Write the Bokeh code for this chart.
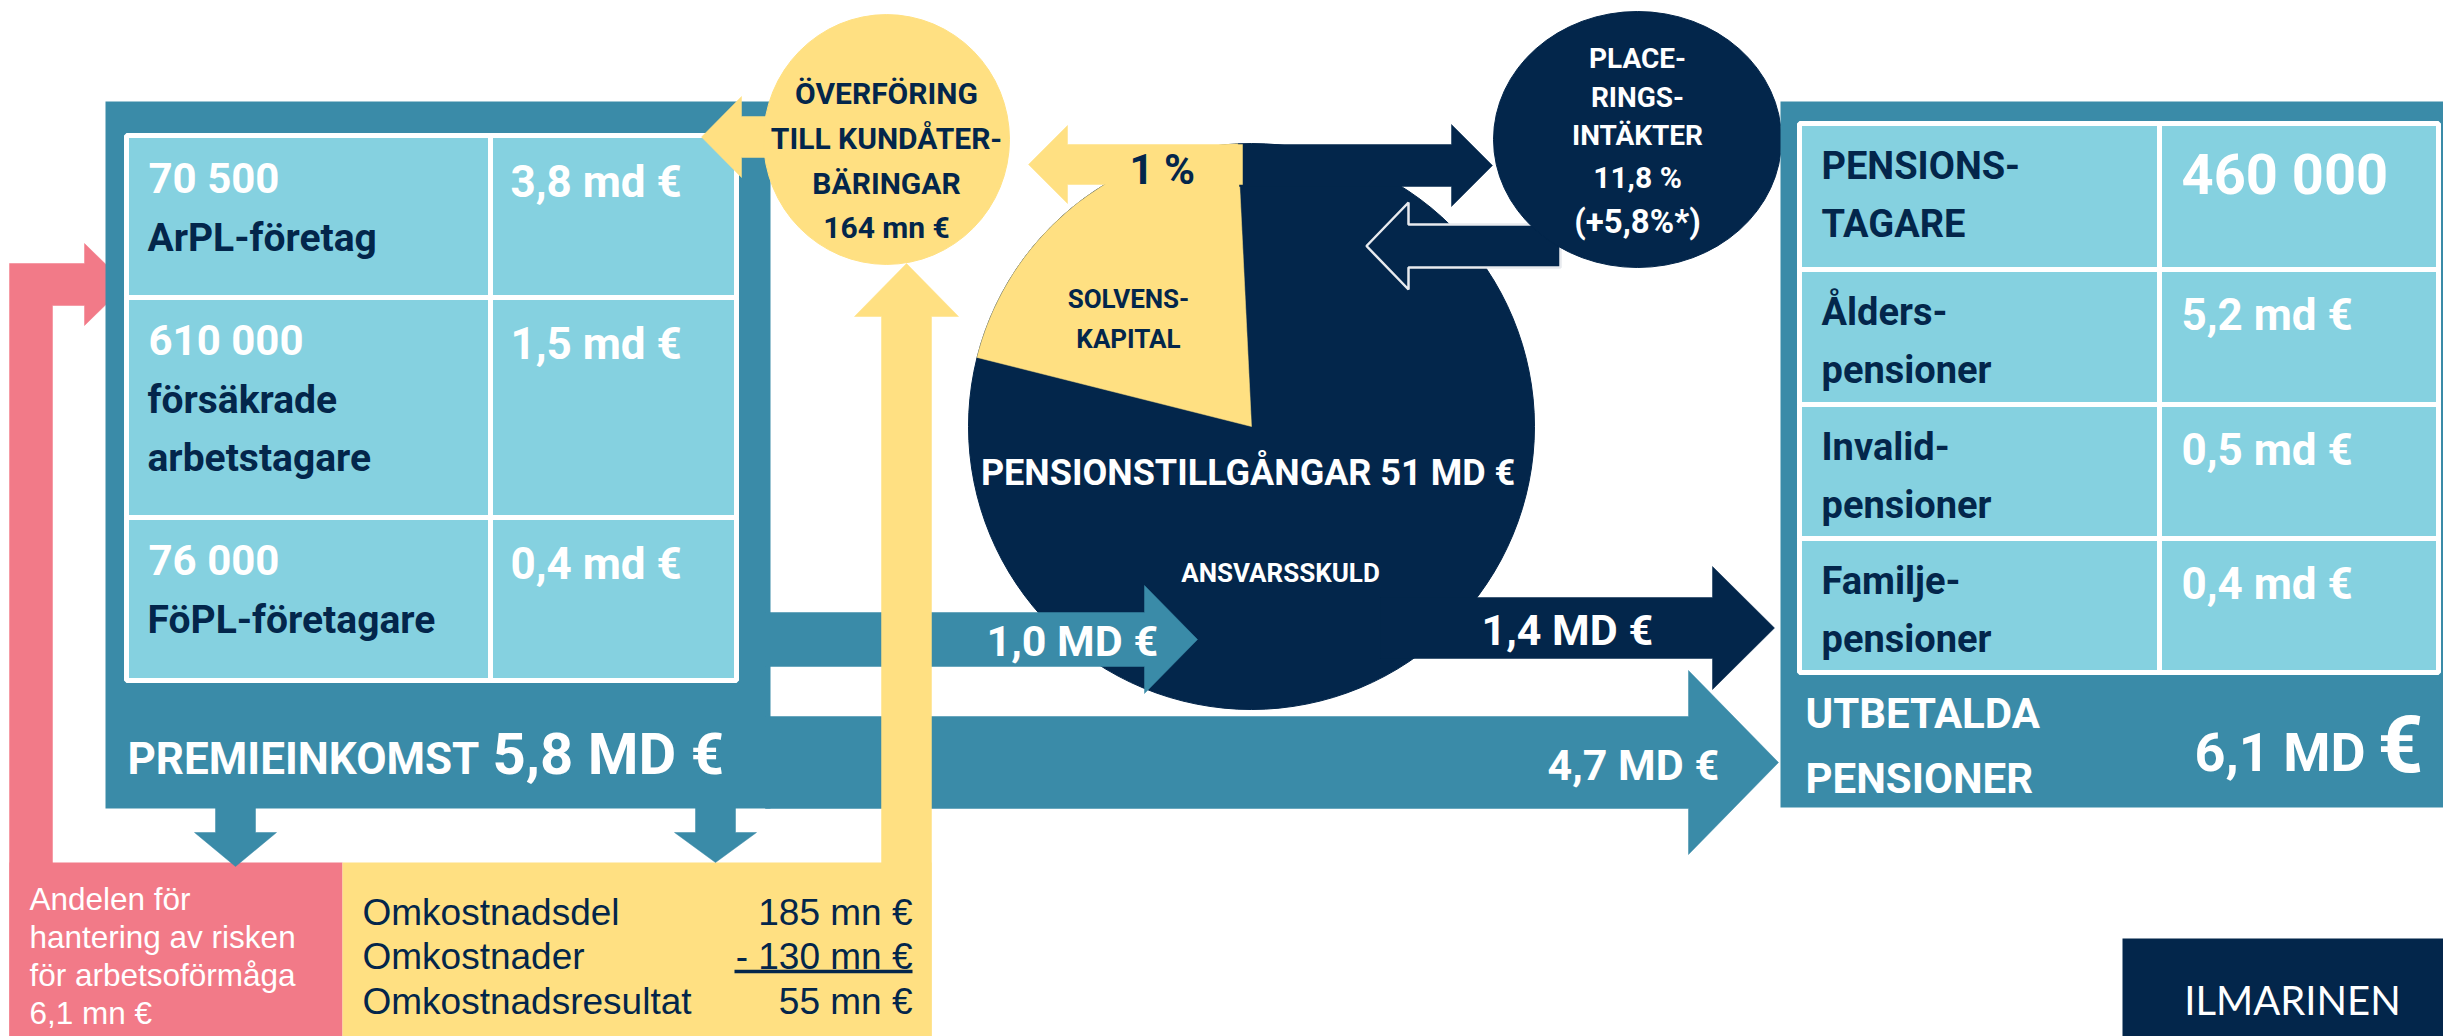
import numpy as np
from bokeh.plotting import figure
from bokeh.models import Range1d
from bokeh.core.properties import value
from bokeh.embed import file_html
from bokeh.resources import INLINE

# ---------------- data (texts and values) ----------------
premium_counts = ["70 500", "610 000", "76 000"]
premium_groups = [["ArPL-företag"], ["försäkrade", "arbetstagare"], ["FöPL-företagare"]]
premium_amounts = ["3,8 md €", "1,5 md €", "0,4 md €"]
premium_total_label = "PREMIEINKOMST"
premium_total = "5,8 MD €"

pension_labels = [["PENSIONS-", "TAGARE"], ["Ålders-", "pensioner"],
                  ["Invalid-", "pensioner"], ["Familje-", "pensioner"]]
pension_values = ["460 000", "5,2 md €", "0,5 md €", "0,4 md €"]
paid_label = ["UTBETALDA", "PENSIONER"]
paid_total = "6,1 MD"
paid_currency = "€"

flow_labels = ["1,0 MD €", "1,4 MD €", "4,7 MD €"]
transfer_text = ["ÖVERFÖRING", "TILL KUNDÅTER-", "BÄRINGAR", "164 mn €"]
return_text = ["PLACE-", "RINGS-", "INTÄKTER", "11,8 %", "(+5,8%*)"]
bonus_label = "1 %"
solvency_label = ["SOLVENS-", "KAPITAL"]
assets_label = "PENSIONSTILLGÅNGAR 51 MD  €"
liability_label = "ANSVARSSKULD"
solvency_share = 0.203          # share of the asset pie
solvency_start_deg = 92.8

risk_text = ["Andelen för", "hantering av risken", "för arbetsoförmåga", "6,1 mn €"]
cost_labels = ["Omkostnadsdel", "Omkostnader", "Omkostnadsresultat"]
cost_values = ["185 mn €", "- 130 mn €", "55 mn €"]
brand = "ILMARINEN"

# ---------------- style ----------------
NAVY = "#03264B"
TEAL = "#3A8BA8"
LTEAL = "#85D1E0"
YEL = "#FFE082"
PINK = "#F27A88"
WHITE = "#FFFFFF"
BOLD_FONT = value("Roboto")
REG_FONT = value("Liberation Sans")
BOLD_SHIFT = 0.36   # renderer places glyph baselines this many em lower
REG_SHIFT = 0.27

p = figure(width=2443, height=1036, x_range=Range1d(0, 2443), y_range=Range1d(1036, 0),
           output_backend="svg", toolbar_location=None, min_border=0,
           x_axis_type=None, y_axis_type=None)
p.grid.visible = False
p.outline_line_color = None
p.background_fill_color = WHITE
p.border_fill_color = WHITE


def harrow(x0, xb, xt, yc, bh, hh):
    return ([x0, xb, xb, xt, xb, xb, x0],
            [yc - bh, yc - bh, yc - hh, yc, yc + hh, yc + bh, yc + bh])


def varrow(y0, yb, yt, xc, bh, hh):
    return ([xc - bh, xc - bh, xc - hh, xc, xc + hh, xc + bh, xc + bh],
            [y0, yb, yb, yt, yb, yb, y0])


def shape(xs, ys, color, line=None, lw=0):
    p.patch(xs, ys, fill_color=color, line_color=line if line else color,
            line_width=lw if line else 0.5)


def box(x0, x1, y0, y1, color, line=None, lw=0):
    p.quad(left=[x0], right=[x1], top=[y0], bottom=[y1], fill_color=color,
           line_color=line, line_width=lw)


def txt(x, y, s, size, color, bold=True, align="left", font=None):
    shift = BOLD_SHIFT if bold else REG_SHIFT
    p.text(x=[x], y=[y - shift * size], text=[s],
           text_font=font if font is not None else (BOLD_FONT if bold else REG_FONT),
           text_font_size=f"{size}px", text_font_style="bold" if bold else "normal",
           text_color=color, text_align=align, text_baseline="alphabetic")


# ---------------- left side: risk and cost boxes ----------------
shape([9, 9, 84, 84, 126, 84, 84, 52, 52], [1040, 263, 263, 243, 284, 325, 305, 305, 1040], PINK)
box(9, 342, 862, 1040, PINK)
box(342, 931, 862, 1040, YEL)

# premium box
box(105, 770, 101, 808, TEAL)

# 4,7 arrow
shape(*harrow(765, 1688, 1778, 762, 46, 92), TEAL)

# asset pie
PIE_CX, PIE_CY, PIE_R = 1251, 426, 283
p.ellipse(x=[PIE_CX], y=[PIE_CY], width=[2 * PIE_R], height=[2 * PIE_R],
          fill_color=NAVY, line_color=NAVY)
ang = np.radians(np.linspace(solvency_start_deg, solvency_start_deg + 360 * solvency_share, 90))
wx = [PIE_CX] + list(PIE_CX + PIE_R * np.cos(ang))
wy = [PIE_CY] + list(PIE_CY - PIE_R * np.sin(ang))
shape(wx, wy, YEL)

# 1,0 arrow
shape(*harrow(765, 1144, 1197, 639, 27, 54), TEAL)

# yellow up arrow to the transfer circle
shape(*varrow(1040, 316, 263, 906, 25, 52), YEL)

# down arrows from premium box
shape(*varrow(805, 832, 866, 235, 20, 41), TEAL)
shape(*varrow(805, 832, 862, 715, 20, 41), TEAL)

# premium table
cols_l = [126, 490, 736]
rows_l = [135, 297, 517, 680]
for i in range(3):
    for j in range(2):
        box(cols_l[j], cols_l[j + 1], rows_l[i], rows_l[i + 1], LTEAL, WHITE, 5)

# transfer arrow and circle
shape(*harrow(820, 741, 701, 136.5, 20.5, 40.5), YEL)
p.ellipse(x=[886], y=[139], width=[246], height=[250], fill_color=YEL, line_color=YEL)

# 1,4 arrow
shape(*harrow(1380, 1712, 1774, 627.5, 30.5, 61.5), NAVY)

# arrows at the top of the pie
shape(*harrow(1239, 1451, 1492, 165, 21, 41), NAVY)
shape(*harrow(1242, 1067, 1028, 164, 20, 39), YEL)

# investment return: arrow back into pie and ellipse
shape(*harrow(1560, 1408, 1366, 245.5, 21.5, 43.5), NAVY, line="#E8EAEE", lw=2.5)
p.ellipse(x=[1637], y=[139], width=[288], height=[256], fill_color=NAVY, line_color=NAVY)

# pension box
box(1780, 2450, 101, 807, TEAL)
cols_r = [1799, 2159, 2438]
rows_r = [123, 269, 404, 538, 672]
for i in range(4):
    for j in range(2):
        box(cols_r[j], cols_r[j + 1], rows_r[i], rows_r[i + 1], LTEAL, WHITE, 5)

# brand box
box(2122, 2450, 938, 1040, NAVY)

# ---------------- texts ----------------
for i in range(3):
    top = rows_l[i]
    txt(148, top + 58, premium_counts[i], 42, WHITE)
    for k, line in enumerate(premium_groups[i]):
        txt(147, top + 117 + 58 * k, line, 39, NAVY)
    txt(510, top + 62, premium_amounts[i], 44, WHITE)

txt(127, 774, premium_total_label, 44, WHITE)
txt(492, 774, premium_total, 58, WHITE)

for i in range(4):
    top = rows_r[i]
    txt(1821, top + 56, pension_labels[i][0], 38, NAVY)
    txt(1821, top + 114, pension_labels[i][1], 38, NAVY)
    if i == 0:
        txt(2181, top + 72, pension_values[i], 56, WHITE)
    else:
        txt(2181, top + 61, pension_values[i], 44, WHITE)

txt(1805, 728, paid_label[0], 42, WHITE)
txt(1805, 793, paid_label[1], 42, WHITE)
txt(2194, 771, paid_total, 54, WHITE)
txt(2377, 773, paid_currency, 80, WHITE)

for k, line in enumerate(transfer_text):
    txt(886, 104 + 44.7 * k, line, 30, NAVY, align="center")

for k, (line, y) in enumerate(zip(return_text, [68, 107, 145, 188, 233])):
    txt(1637, y, line, 28 if k < 3 else (30 if k == 3 else 33), WHITE, align="center")

txt(1129, 184, bonus_label, 42, NAVY)
txt(1128, 308, solvency_label[0], 26, NAVY, align="center")
txt(1128, 348, solvency_label[1], 26, NAVY, align="center")
txt(1252, 485, assets_label, 36, WHITE, align="center")
txt(1280, 582, liability_label, 26, WHITE, align="center")

txt(986, 656, flow_labels[0], 43, WHITE)
txt(1481, 645, flow_labels[1], 43, WHITE)
txt(1547, 780, flow_labels[2], 43, WHITE)

for k, line in enumerate(risk_text):
    txt(29, 907 + 38 * k, line, 31.5, WHITE, bold=False)

for k, (lab, val) in enumerate(zip(cost_labels, cost_values)):
    y = 921.5 + 44.5 * k
    txt(362, y, lab, 37, NAVY, bold=False)
    txt(912, y, val, 37, NAVY, bold=False, align="right")
p.segment(x0=[734], y0=[971], x1=[912], y1=[971], line_color=NAVY, line_width=3.3)

txt(2292, 1010, brand, 40, WHITE, bold=False, align="center", font=value("Lato"))

open("out.html", "w").write(file_html(p, INLINE))
